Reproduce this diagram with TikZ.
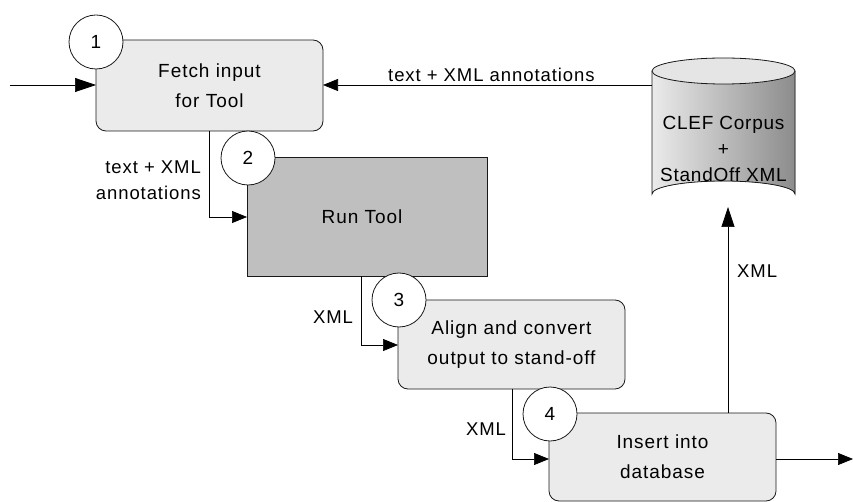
\documentclass[tikz,border=0pt]{standalone}
\usepackage{fontspec}
\setmainfont{Liberation Sans}
\usetikzlibrary{arrows.meta}
\begin{document}
\begin{tikzpicture}[x=1pt,y=-1pt,
  boxtext/.style={font=\fontsize{19}{30}\selectfont\addfontfeature{LetterSpace=5}, align=center},
  lbl/.style={font=\fontsize{18.5}{26}\selectfont\addfontfeature{LetterSpace=5}, inner sep=0pt},
  procbox/.style={draw=black!90, line width=0.8pt, fill=black!8, rounded corners=10pt},
  numcirc/.style={draw=black!90, line width=0.8pt, fill=white, circle, minimum size=54pt, inner sep=0pt, font=\fontsize{19}{20}\selectfont},
  flow/.style={draw=black, line width=0.7pt, -{Triangle[length=15pt,width=12pt]}}
]
\useasboundingbox (0,0) rectangle (853,502);
% boxes
\draw[procbox] (96,40) rectangle (323,131);
\node[boxtext] (b1) at (209.5,85.5) {Fetch input\\for Tool};
\coordinate (b1e) at (323,85);
\coordinate (b1w) at (96,85);
\coordinate (b1s) at (209,131);

\draw[draw=black!90, line width=0.8pt, fill=black!25] (247,157) rectangle (487,276);
\node[boxtext] (b2) at (362,216.5) {Run Tool};
\coordinate (b2w) at (247,217);
\coordinate (b2s) at (361,276);

\draw[procbox] (398,300) rectangle (625,389);
\node[boxtext] (b3) at (511.5,344.5) {Align and convert\\output to stand-off};
\coordinate (b3w) at (398,345);
\coordinate (b3s) at (512,389);

\draw[procbox] (549,413) rectangle (776,501);
\node[boxtext] (b4) at (662.5,457) {Insert into\\database};
\coordinate (b4w) at (549,459);
\coordinate (b4e) at (776,459);
\coordinate (b4n) at (728,413);

% cylinder
\fill[left color=black!8, right color=black!45] (652,71) -- (652,194) arc[start angle=180,end angle=360,x radius=71.5,y radius=13] -- (795,71) -- cycle;
\draw[black!90, line width=0.8pt] (652,71) -- (652,194) arc[start angle=180,end angle=360,x radius=71.5,y radius=13] -- (795,71);
\draw[black!90, line width=0.8pt, fill=black!10] (723.5,71) ellipse[x radius=71.5, y radius=13];
\node[boxtext, font=\fontsize{19}{26}\selectfont\addfontfeature{LetterSpace=4}] (db) at (723.5,149) {CLEF Corpus\\+\\StandOff XML};
\coordinate (dbw) at (652,85);
\coordinate (dbs) at (728,207);

% circles
\node[numcirc] (c1) at (96,42) {1};
\node[numcirc] (c2) at (248,158) {2};
\node[numcirc] (c3) at (399,300) {3};
\node[numcirc] (c4) at (550,414) {4};

% start / end
\coordinate (in) at (10,85);
\coordinate (out) at (853,459);

% connectors
\draw[flow, -{Triangle[length=21pt,width=14pt]}] (in) -- (b1w);
\draw[flow] (dbw) -- (b1e);
\draw[flow] (b1s) |- (b2w);
\draw[flow] (b2s) |- (b3w);
\draw[flow] (b3s) |- (b4w);
\draw[flow, -{Triangle[length=20pt,width=13pt]}] (b4n) -- (dbs);
\draw[flow] (b4e) -- (out);

% labels
\node[lbl, anchor=west] (l0) at (388,75) {text + XML annotations};
\node[lbl, align=right, anchor=east] (l1) at (201,180) {text + XML\\annotations};
\node[lbl] (l2) at (333,317) {XML};
\node[lbl] (l3) at (486,429) {XML};
\node[lbl, anchor=west] (l4) at (737,271) {XML};
\end{tikzpicture}
\end{document}
